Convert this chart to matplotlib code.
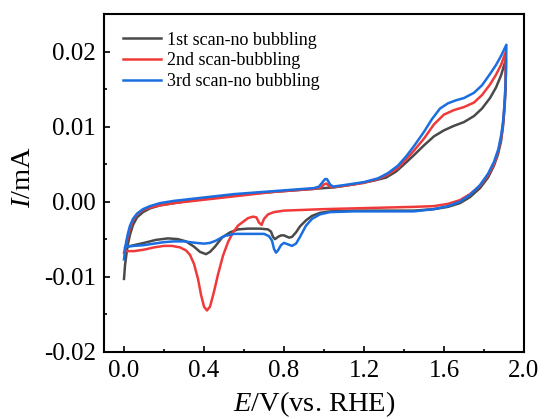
import matplotlib
matplotlib.use("Agg")
import matplotlib.pyplot as plt
from matplotlib.ticker import MultipleLocator

# scan 1 - no bubbling (anodic sweep then cathodic sweep)
E1 = [0.000, 0.005, 0.012, 0.020, 0.030, 0.045, 0.065, 0.095, 0.13, 0.18, 0.25, 0.35, 0.45, 0.55,
      0.65, 0.75, 0.85, 0.95, 1.05, 1.15, 1.25, 1.31, 1.36, 1.41, 1.45, 1.50, 1.55, 1.60, 1.65,
      1.70, 1.75, 1.79, 1.83, 1.86, 1.885, 1.91,
      1.908, 1.903, 1.895, 1.885, 1.87, 1.85, 1.82, 1.78, 1.73, 1.68, 1.62, 1.55, 1.45, 1.30,
      1.15, 1.03, 0.98, 0.94, 0.91, 0.88, 0.86, 0.84, 0.825, 0.80, 0.785, 0.77, 0.755, 0.745,
      0.735, 0.72, 0.68, 0.62, 0.57, 0.53, 0.49, 0.455, 0.43, 0.41, 0.38, 0.35, 0.31, 0.27,
      0.22, 0.16, 0.10, 0.05, 0.02, 0.005]
I1 = [-0.0103, -0.0085, -0.0070, -0.0056, -0.0044, -0.0031, -0.0021, -0.0014, -0.0009, -0.0005,
      -0.0002, 0.0002, 0.0005, 0.0008, 0.0011, 0.0013, 0.0015, 0.0017, 0.0019, 0.0023, 0.0028,
      0.0032, 0.0040, 0.0052, 0.0062, 0.0075, 0.0087, 0.0095, 0.0101, 0.0106, 0.0114, 0.0124,
      0.0138, 0.0152, 0.0168, 0.0190,
      0.0150, 0.0125, 0.0100, 0.0080, 0.0063, 0.0048, 0.0032, 0.0018, 0.0006, -0.0002, -0.0007,
      -0.0010, -0.0012, -0.0012, -0.0012, -0.0013, -0.0015, -0.0019, -0.0025, -0.0033, -0.0041,
      -0.0047, -0.0048, -0.0045, -0.0045, -0.0047, -0.0050, -0.0047, -0.0040, -0.0037, -0.0036,
      -0.0036, -0.0037, -0.0041, -0.0048, -0.0060, -0.0067, -0.0070, -0.0067, -0.0060, -0.0053,
      -0.0050, -0.0049, -0.0051, -0.0055, -0.0058, -0.0060, -0.0062]

# scan 2 - bubbling
E2 = [0.000, 0.008, 0.018, 0.030, 0.045, 0.065, 0.095, 0.13, 0.18, 0.25, 0.35, 0.45, 0.55, 0.65,
      0.75, 0.85, 0.95, 0.985, 1.00, 1.012, 1.025, 1.04, 1.10, 1.20, 1.27, 1.32, 1.37, 1.41, 1.45,
      1.50, 1.55, 1.60, 1.65, 1.70, 1.75, 1.79, 1.83, 1.86, 1.885, 1.908,
      1.908, 1.903, 1.895, 1.885, 1.87, 1.85, 1.82, 1.78, 1.73, 1.68, 1.62, 1.55, 1.45, 1.30,
      1.15, 1.00, 0.90, 0.80, 0.75, 0.72, 0.70, 0.688, 0.675, 0.662, 0.645, 0.62, 0.595, 0.57,
      0.545, 0.52, 0.495, 0.47, 0.45, 0.43, 0.415, 0.40, 0.385, 0.37, 0.35, 0.33, 0.31, 0.28,
      0.24, 0.20, 0.15, 0.10, 0.05, 0.01]
I2 = [-0.0068, -0.0060, -0.0048, -0.0036, -0.0025, -0.0017, -0.0011, -0.0008, -0.0005, -0.0002,
      0.0001, 0.0004, 0.0007, 0.0010, 0.0013, 0.0015, 0.0017, 0.0019, 0.0023, 0.0024, 0.0021,
      0.0019, 0.0021, 0.0025, 0.0030, 0.0036, 0.0045, 0.0056, 0.0068, 0.0084, 0.0103, 0.0116,
      0.0122, 0.0126, 0.0132, 0.0142, 0.0156, 0.0169, 0.0182, 0.0199,
      0.0160, 0.0130, 0.0103, 0.0083, 0.0066, 0.0050, 0.0035, 0.0021, 0.0010, 0.0002, -0.0003,
      -0.0006, -0.0007, -0.0008, -0.0009, -0.0010, -0.0011, -0.0012, -0.0014, -0.0017, -0.0023,
      -0.0031, -0.0028, -0.0021, -0.0020, -0.0022, -0.0027, -0.0032, -0.0041, -0.0054, -0.0072,
      -0.0097, -0.0120, -0.0140, -0.0145, -0.0140, -0.0124, -0.0103, -0.0083, -0.0071, -0.0065,
      -0.0061, -0.0059, -0.0059, -0.0061, -0.0064, -0.0066, -0.0066]

# scan 3 - no bubbling
E3 = [0.000, 0.006, 0.012, 0.020, 0.030, 0.045, 0.065, 0.095, 0.13, 0.18, 0.25, 0.35, 0.45, 0.55,
      0.65, 0.75, 0.85, 0.95, 0.975, 0.99, 1.005, 1.015, 1.03, 1.045, 1.10, 1.20, 1.27, 1.32,
      1.37, 1.41, 1.45, 1.50, 1.54, 1.58, 1.62, 1.66, 1.70, 1.75, 1.79, 1.83, 1.86, 1.885, 1.912,
      1.910, 1.905, 1.897, 1.887, 1.872, 1.85, 1.82, 1.78, 1.73, 1.68, 1.62, 1.55, 1.45, 1.30,
      1.15, 1.03, 0.98, 0.94, 0.91, 0.88, 0.86, 0.84, 0.82, 0.80, 0.785, 0.77, 0.76, 0.75, 0.74,
      0.725, 0.70, 0.65, 0.60, 0.55, 0.50, 0.46, 0.43, 0.40, 0.36, 0.30, 0.25, 0.20, 0.15, 0.10,
      0.05, 0.01]
I3 = [-0.0077, -0.0062, -0.0052, -0.0042, -0.0032, -0.0023, -0.0016, -0.0010, -0.0006, -0.0002,
      0.0001, 0.0004, 0.0007, 0.0010, 0.0012, 0.0014, 0.0016, 0.0018, 0.0020, 0.0025, 0.0030,
      0.0030, 0.0023, 0.0020, 0.0022, 0.0026, 0.0031, 0.0038, 0.0048, 0.0060, 0.0074, 0.0093,
      0.0110, 0.0124, 0.0131, 0.0135, 0.0138, 0.0145, 0.0155, 0.0170, 0.0182, 0.0194, 0.0209,
      0.0170, 0.0140, 0.0110, 0.0090, 0.0070, 0.0053, 0.0037, 0.0022, 0.0009, 0.0000, -0.0006,
      -0.0010, -0.0013, -0.0013, -0.0013, -0.0014, -0.0017, -0.0023, -0.0032, -0.0047, -0.0056,
      -0.0059, -0.0057, -0.0055, -0.0058, -0.0065, -0.0068, -0.0063, -0.0052, -0.0046, -0.0043,
      -0.0043, -0.0043, -0.0043, -0.0046, -0.0052, -0.0055, -0.0056, -0.0055, -0.0053, -0.0053,
      -0.0054, -0.0056, -0.0058, -0.0059, -0.0060]

labels = ['1st scan-no bubbling', '2nd scan-bubbling', '3rd scan-no bubbling']
colors = ['#4a4a4a', '#f03a3a', '#1a6ee0']

plt.rcParams['font.family'] = ['Liberation Serif', 'DejaVu Serif']
plt.rcParams['mathtext.fontset'] = 'custom'
plt.rcParams['mathtext.rm'] = 'Liberation Serif'
plt.rcParams['mathtext.it'] = 'Liberation Serif:italic'

fig = plt.figure(figsize=(5.44, 4.19), dpi=100)
ax = fig.add_axes([0.1912, 0.1606, 0.772, 0.806])

for E, I, lab, c in zip([E1, E2, E3], [I1, I2, I3], labels, colors):
    ax.plot(E, I, color=c, lw=1.8, label=lab, solid_joinstyle='round')

ax.set_xlim(-0.1, 2.0)
ax.set_ylim(-0.02, 0.025)
ax.xaxis.set_minor_locator(MultipleLocator(0.2))
ax.yaxis.set_minor_locator(MultipleLocator(0.005))
ax.set_xticks([0.0, 0.4, 0.8, 1.2, 1.6, 2.0])
ax.set_xticklabels(['0.0', '0.4', '0.8', '1.2', '1.6', '2.0'])
ax.set_yticks([-0.02, -0.01, 0.0, 0.01, 0.02])
ax.set_yticklabels(['-0.02', '-0.01', '0.00', '0.01', '0.02'])

ax.tick_params(which='both', direction='in', width=1.2, labelsize=18)
ax.tick_params(which='major', length=4.5, pad=6)
ax.tick_params(which='minor', length=2.5)
for s in ax.spines.values():
    s.set_linewidth(1.5)

ax.set_xlabel(r'$\mathit{E}$/V(vs. RHE)', fontsize=20.5)
ax.set_ylabel(r'$\mathit{I}$/mA', fontsize=20.5)
ax.xaxis.set_label_coords(0.5, -0.112)
ax.yaxis.set_label_coords(-0.162, 0.516)

ax.legend(loc='upper left', frameon=False, fontsize=13, handlelength=2.1,
          handletextpad=0.35, labelspacing=0.2, borderaxespad=0.4,
          bbox_to_anchor=(0.01, 0.99))

fig.savefig('out.png', dpi=100)
